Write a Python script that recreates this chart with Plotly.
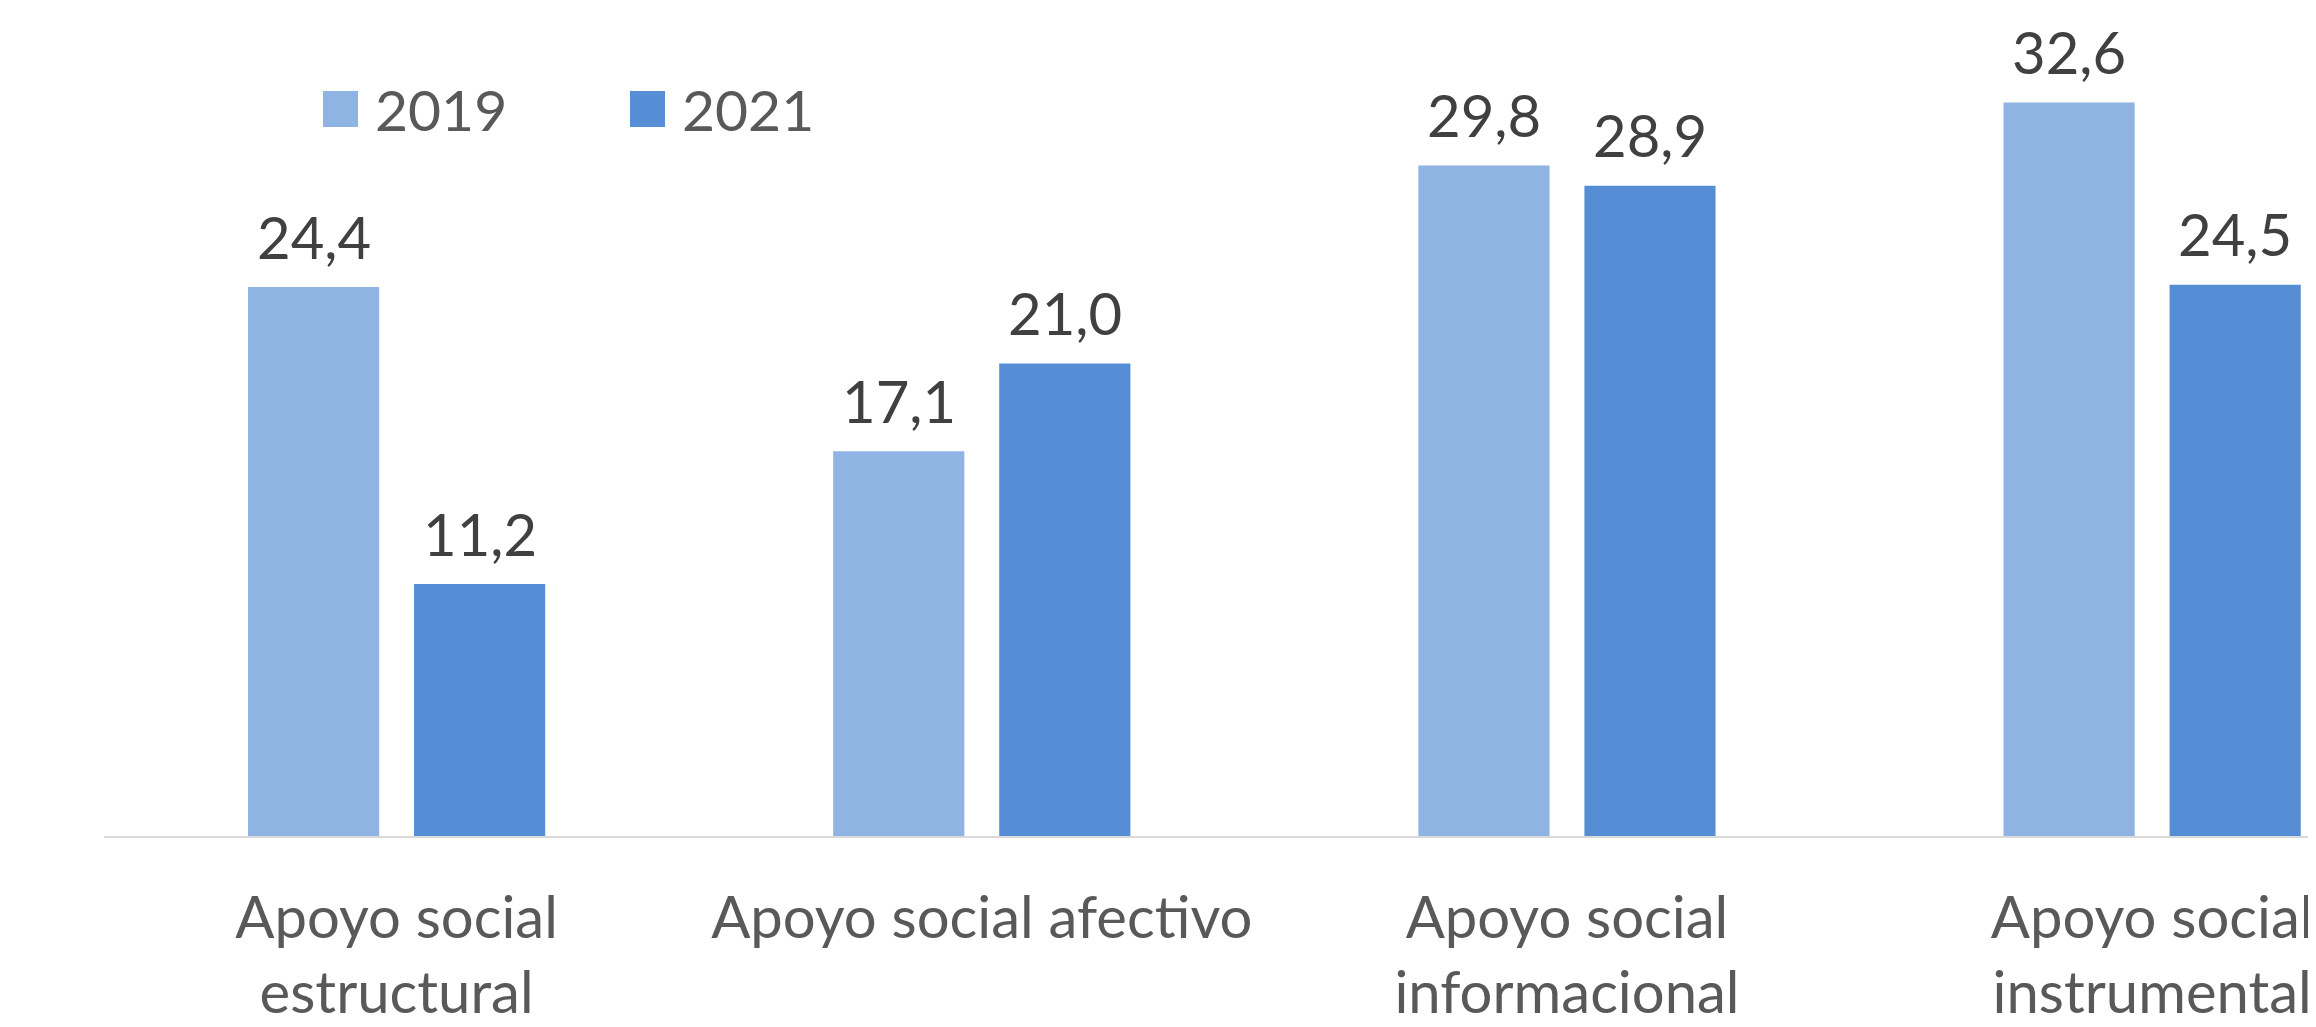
import plotly.graph_objects as go

categories = ["Apoyo social<br>estructural", "Apoyo social afectivo",
              "Apoyo social<br>informacional", "Apoyo social<br>instrumental"]
series_names = ["2019", "2021"]
values_2019 = [24.4, 17.1, 29.8, 32.6]
values_2021 = [11.2, 21.0, 28.9, 24.5]
colors = ["#8FB4E3", "#558ED5"]

# page body has an 8px margin, compensate
OFF = 8
W, H = 2316 - OFF, 1027 - OFF
ML, MB = 104 - OFF, 191
plot_w = W - ML
plot_h = H - MB
X_RANGE = [-0.5, 3.28]
BARGAP, BARGROUPGAP = 0.4325, 0.21

fig = go.Figure()
for name, vals, col in zip(series_names, [values_2019, values_2021], colors):
    fig.add_trace(go.Bar(
        name=name, x=categories, y=vals, marker=dict(color=col, line=dict(width=0)),
        showlegend=False, hoverinfo="x+y",
    ))

# data labels as annotations anchored at each bar
px_per_cat = plot_w / (X_RANGE[1] - X_RANGE[0])
slot = px_per_cat * (1 - BARGAP) / 2
annotations = []
for i, vals in enumerate([values_2019, values_2021]):
    shift = (i - 0.5) * slot
    for c, v in zip(categories, vals):
        annotations.append(dict(
            x=c, y=v, xref="x", yref="y", xshift=shift, yshift=51,
            text=f"{v:.1f}".replace(".", ","), showarrow=False,
            xanchor="center", yanchor="middle",
            font=dict(family="Lato", size=58, color="#404040")))

# legend drawn manually (large swatches)
legend_items = [(323, series_names[0], colors[0]), (630, series_names[1], colors[1])]
shapes = []
for px, name, col in legend_items:
    px -= OFF
    x0 = (px - ML) / plot_w
    x1 = (px + 35 - ML) / plot_w
    top = 91 - OFF
    y1 = 1 - top / plot_h
    y0 = 1 - (top + 36) / plot_h
    shapes.append(dict(type="rect", xref="paper", yref="paper", x0=x0, x1=x1, y0=y0, y1=y1,
                       fillcolor=col, line=dict(width=0)))
    annotations.append(dict(xref="paper", yref="paper", x=(px + 50 - ML) / plot_w,
                            y=1 - (top + 18) / plot_h, text=name, showarrow=False,
                            xanchor="left", yanchor="middle",
                            font=dict(family="Lato", size=57, color="#595959")))

fig.update_layout(
    width=W, height=H,
    margin=dict(l=ML, r=0, t=0, b=MB),
    paper_bgcolor="white", plot_bgcolor="white",
    barmode="group", bargap=BARGAP, bargroupgap=BARGROUPGAP,
    separators=",.",
    shapes=shapes, annotations=annotations,
    xaxis=dict(range=X_RANGE, showline=True, linecolor="#D9D9D9", linewidth=2,
               ticks="", ticklabelstandoff=30,
               tickfont=dict(family="Lato", size=58, color="#595959"), showgrid=False),
    yaxis=dict(range=[0, (836 - OFF) / 22.5], visible=False, showgrid=False, zeroline=False),
)

fig.write_html("out.html")
